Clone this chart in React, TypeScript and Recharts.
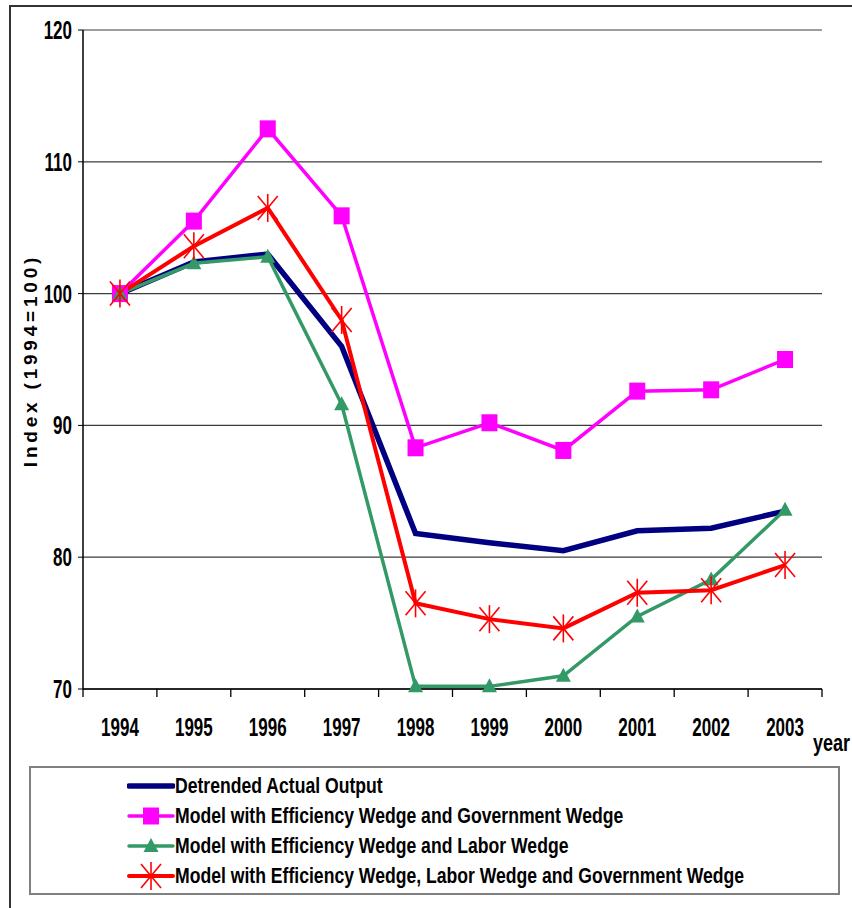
import React from "react";
import { LineChart, Line, XAxis, YAxis, CartesianGrid } from "recharts";

// ─── Data ────────────────────────────────────────────────────────────────────

const years = ["1994", "1995", "1996", "1997", "1998", "1999", "2000", "2001", "2002", "2003"];
const actualOutput = [100, 102.4, 103.0, 96.0, 81.8, 81.1, 80.5, 82.0, 82.2, 83.5];
const effGov = [100, 105.5, 112.5, 105.9, 88.3, 90.2, 88.1, 92.6, 92.7, 95.0];
const effLabor = [100, 102.3, 102.8, 91.6, 70.2, 70.2, 71.0, 75.5, 78.3, 83.6];
const effLaborGov = [100, 103.6, 106.5, 98.0, 76.5, 75.3, 74.6, 77.3, 77.5, 79.4];
const yTicks = [70, 80, 90, 100, 110, 120];

const data = years.map((year, i) => ({
  year,
  actual: actualOutput[i],
  effGov: effGov[i],
  effLabor: effLabor[i],
  effLaborGov: effLaborGov[i],
}));

const FONT = "'Liberation Sans', Arial, sans-serif";
const NAVY = "#000080";
const MAGENTA = "#FF00FF";
const GREEN = "#339966";
const RED = "#FF0000";

// ─── Markers ─────────────────────────────────────────────────────────────────

function Square({ cx, cy }: { cx?: number; cy?: number }) {
  if (cx == null || cy == null) return null;
  return <rect x={cx - 8} y={cy - 8.5} width={16} height={17} fill={MAGENTA} />;
}

function Triangle({ cx, cy }: { cx?: number; cy?: number }) {
  if (cx == null || cy == null) return null;
  return <polygon points={`${cx},${cy - 8} ${cx + 7.5},${cy + 6} ${cx - 7.5},${cy + 6}`} fill={GREEN} />;
}

function Star({ cx, cy }: { cx?: number; cy?: number }) {
  if (cx == null || cy == null) return null;
  return (
    <g stroke={RED} strokeWidth={1.6}>
      <line x1={cx} y1={cy - 14} x2={cx} y2={cy + 14} />
      <line x1={cx - 10} y1={cy - 12} x2={cx + 10} y2={cy + 12} />
      <line x1={cx + 10} y1={cy - 12} x2={cx - 10} y2={cy + 12} />
    </g>
  );
}

// ─── Axis pieces ─────────────────────────────────────────────────────────────

function XTick({ x, y, payload, index, visibleTicksCount }: any) {
  const off = payload.offset ?? 0;
  const axisY = y - 8;
  const isLast = index === (visibleTicksCount ?? years.length) - 1;
  return (
    <g>
      <line x1={x - off} x2={x - off} y1={axisY} y2={axisY + 8} stroke="#000" strokeWidth={1.3} />
      {isLast && <line x1={x + off} x2={x + off} y1={axisY} y2={axisY + 8} stroke="#000" strokeWidth={1.3} />}
      <g transform={`translate(${x},${axisY + 47}) scale(0.68,1)`}>
        <text x={0} y={0} textAnchor="middle" fontFamily={FONT} fontWeight="bold" fontSize={25} fill="#000">
          {payload.value}
        </text>
      </g>
    </g>
  );
}

function YTick({ x, y, payload }: any) {
  return (
    <g transform={`translate(${x},${y + 9}) scale(0.68,1)`}>
      <text x={0} y={0} textAnchor="end" fontFamily={FONT} fontWeight="bold" fontSize={25} fill="#000">
        {payload.value}
      </text>
    </g>
  );
}

function YLabel({ viewBox }: any) {
  const cx = viewBox.x + 30;
  const cy = viewBox.y + viewBox.height / 2 + 1;
  return (
    <text
      x={cx}
      y={cy}
      transform={`rotate(-90 ${cx} ${cy})`}
      textAnchor="middle"
      dominantBaseline="central"
      fontFamily={FONT}
      fontWeight="bold"
      fontSize={19}
      letterSpacing={3.8}
      fill="#000"
    >
      Index (1994=100)
    </text>
  );
}

function YearLabel({ viewBox }: any) {
  const x = viewBox.x + viewBox.width - 9;
  const y = viewBox.y + 62;
  return (
    <g transform={`translate(${x},${y}) scale(0.75,1)`}>
      <text x={0} y={0} fontFamily={FONT} fontWeight="bold" fontSize={24} fill="#000">
        year
      </text>
    </g>
  );
}

// ─── Legend ──────────────────────────────────────────────────────────────────

const legendItems = [
  { label: "Detrended Actual Output", color: NAVY, width: 5.5, Marker: null },
  { label: "Model with Efficiency Wedge and Government Wedge", color: MAGENTA, width: 3.5, Marker: Square },
  { label: "Model with Efficiency Wedge and Labor Wedge", color: GREEN, width: 3.5, Marker: Triangle },
  { label: "Model with Efficiency Wedge, Labor Wedge and Government Wedge", color: RED, width: 4, Marker: Star },
];

function ChartLegend() {
  return (
    <div
      style={{
        position: "absolute",
        left: 29,
        top: 766,
        width: 811,
        height: 129,
        border: "2px solid #808080",
        boxSizing: "border-box",
      }}
    >
      {legendItems.map((item, i) => (
        <div
          key={item.label}
          style={{ position: "absolute", left: 96, top: 4 + i * 30, height: 28, display: "flex", alignItems: "center" }}
        >
          <svg width={48} height={30} style={{ display: "block" }}>
            <line x1={2} x2={46} y1={15} y2={15} stroke={item.color} strokeWidth={item.width} strokeLinecap="round" />
            {item.Marker && <item.Marker cx={24} cy={15} />}
          </svg>
          <span
            style={{
              display: "inline-block",
              fontFamily: FONT,
              fontWeight: "bold",
              fontSize: 22,
              whiteSpace: "nowrap",
              transform: "scaleX(0.8)",
              transformOrigin: "left center",
            }}
          >
            {item.label}
          </span>
        </div>
      ))}
    </div>
  );
}

// ─── Chart ───────────────────────────────────────────────────────────────────

export default function App() {
  return (
    <div
      style={{
        position: "absolute",
        left: 0,
        top: 0,
        width: 852,
        height: 908,
        background: "#fff",
        overflow: "hidden",
      }}
    >
      <div
        style={{
          position: "absolute",
          left: 9,
          top: 5,
          width: 900,
          height: 950,
          borderLeft: "2px solid #333",
          borderTop: "2px solid #333",
        }}
      />
      <div style={{ position: "absolute", left: 0, top: 0 }}>
        <LineChart width={852} height={760} data={data} margin={{ top: 30, right: 30, left: 0, bottom: 31 }}>
          <CartesianGrid vertical={false} stroke="#3c3c3c" strokeWidth={1.2} />
          <XAxis
            dataKey="year"
            scale="band"
            height={40}
            tickLine={false}
            tickSize={8}
            tickMargin={0}
            axisLine={{ stroke: "#000", strokeWidth: 1.5 }}
            tick={<XTick />}
            interval={0}
            label={<YearLabel />}
          />
          <YAxis
            width={83}
            domain={[70, 120]}
            ticks={yTicks}
            tickSize={5}
            tickMargin={6}
            tickLine={{ stroke: "#000" }}
            axisLine={{ stroke: "#000", strokeWidth: 1.5 }}
            tick={<YTick />}
            label={<YLabel />}
          />
          <YAxis
            yAxisId="frame"
            orientation="right"
            width={0}
            tick={false}
            tickLine={false}
            axisLine={{ stroke: "#000", strokeWidth: 1.5 }}
          />
          <Line
            dataKey="actual"
            stroke={NAVY}
            strokeWidth={5.5}
            dot={false}
            activeDot={false}
            isAnimationActive={false}
          />
          <Line
            dataKey="effGov"
            stroke={MAGENTA}
            strokeWidth={3.5}
            dot={(p: any) => <Square key={`s${p.index}`} cx={p.cx} cy={p.cy} />}
            activeDot={false}
            isAnimationActive={false}
          />
          <Line
            dataKey="effLabor"
            stroke={GREEN}
            strokeWidth={3.5}
            dot={(p: any) => <Triangle key={`t${p.index}`} cx={p.cx} cy={p.cy} />}
            activeDot={false}
            isAnimationActive={false}
          />
          <Line
            dataKey="effLaborGov"
            stroke={RED}
            strokeWidth={4}
            dot={(p: any) => <Star key={`r${p.index}`} cx={p.cx} cy={p.cy} />}
            activeDot={false}
            isAnimationActive={false}
          />
        </LineChart>
      </div>
      <ChartLegend />
    </div>
  );
}
